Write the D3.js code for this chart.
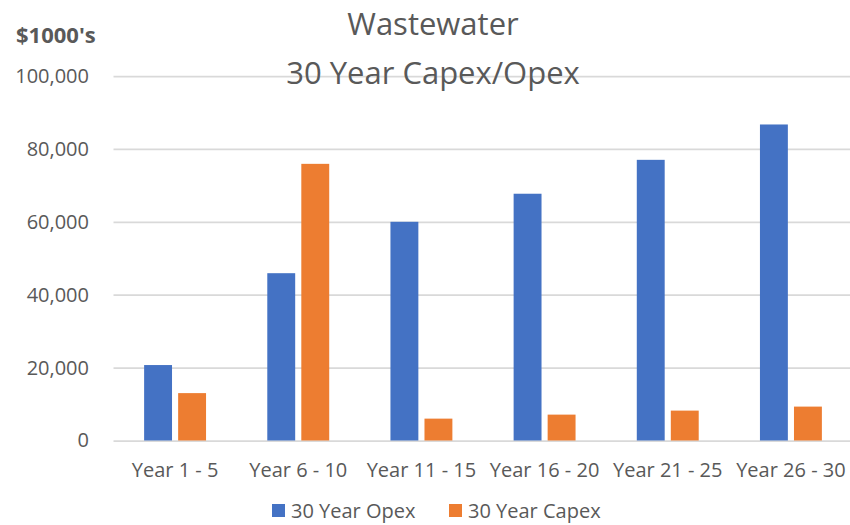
<!DOCTYPE html>
<html>
<head>
<meta charset="utf-8">
<script src="https://cdn.jsdelivr.net/npm/d3@7"></script>
<style>
    body { margin: 0; background: #fff; }
    #chart { width: 850px; height: 525px; }
    text { font-family: "Open Sans", sans-serif; fill: #595959; }
</style>
</head>
<body>
<div id="chart"></div>
<script>
//Datos
const categorias = ['Year 1 - 5', 'Year 6 - 10', 'Year 11 - 15', 'Year 16 - 20', 'Year 21 - 25', 'Year 26 - 30'];
const series = ['30 Year Opex', '30 Year Capex'];
const opex = [20700, 45900, 60000, 67700, 77000, 86700];
const capex = [13000, 75900, 6000, 7100, 8200, 9300];
const yTicks = [0, 20000, 40000, 60000, 80000, 100000];

//Colores fijos
const COLOR_OPEX = '#4472C4',
COLOR_CAPEX = '#ED7D31',
COLOR_GRID = '#D9D9D9';

let data = categorias.map(function(c, i) {
    return { cat: c, values: [opex[i], capex[i]] };
});

let margin = {top: 76, right: 0, bottom: 84.5, left: 113.5},
    width = 739,
    height = 525 - margin.top - margin.bottom;

let svg = d3.select('#chart')
    .append('svg')
        .attr('width', 850)
        .attr('height', 525)
    .append('g')
        .attr('transform', 'translate(' + margin.left + ',' + margin.top + ')');

let x0 = d3.scaleBand()
    .domain(categorias)
    .range([0, width])
    .padding(0);

let x1 = d3.scaleBand()
    .domain(series)
    .range([0, x0.bandwidth()])
    .paddingInner(0.18)
    .paddingOuter(0.9);

let y = d3.scaleLinear()
    .domain([0, 100000])
    .range([height, 0]);

//Eje Y + grid
let yAxis = function(g) {
    g.call(d3.axisLeft(y).tickValues(yTicks).tickFormat(d3.format(',')).tickSize(-width).tickPadding(24.5));
    g.call(function(g) { g.select('.domain').remove(); });
    g.selectAll('.tick line').attr('stroke', COLOR_GRID).attr('stroke-width', 1.75);
    g.selectAll('.tick text').attr('font-size', 20).style('font-family', '"Open Sans", sans-serif').attr('fill', '#595959');
};

svg.append('g')
    .attr('class', 'yaxis')
    .call(yAxis);

//Eje X
let xAxis = function(g) {
    g.call(d3.axisBottom(x0).tickSize(0).tickPadding(22));
    g.call(function(g) { g.select('.domain').remove(); });
    g.selectAll('.tick text').attr('font-size', 20).style('font-family', '"Open Sans", sans-serif').attr('fill', '#595959');
};

svg.append('g')
    .attr('transform', 'translate(0,' + height + ')')
    .call(xAxis);

//Barras
let grupos = svg.selectAll('.grupo')
    .data(data)
    .enter()
    .append('g')
    .attr('class', 'grupo')
    .attr('transform', function(d) { return 'translate(' + x0(d.cat) + ',0)'; });

grupos.selectAll('rect')
    .data(function(d) {
        return series.map(function(s, i) { return { key: s, value: d.values[i] }; });
    })
    .enter()
    .append('rect')
    .attr('x', function(d) { return x1(d.key); })
    .attr('y', function(d) { return y(d.value); })
    .attr('width', x1.bandwidth())
    .attr('height', function(d) { return height - y(d.value); })
    .attr('fill', function(d) { return d.key == series[0] ? COLOR_OPEX : COLOR_CAPEX; });

//Titulo
let root = d3.select('#chart svg');

root.append('text')
    .attr('x', 433)
    .attr('y', 35)
    .attr('text-anchor', 'middle')
    .attr('font-size', 31)
    .text('Wastewater');

root.append('text')
    .attr('x', 433)
    .attr('y', 84)
    .attr('text-anchor', 'middle')
    .attr('font-size', 31)
    .text('30 Year Capex/Opex');

//Unidades
root.append('text')
    .attr('x', 16)
    .attr('y', 43)
    .attr('font-size', 22)
    .attr('font-weight', 'bold')
    .text("$1000's");

//Leyenda
let legendX = [272, 449];
let leyenda = root.selectAll('.leyenda')
    .data(series)
    .enter()
    .append('g')
    .attr('class', 'leyenda')
    .attr('transform', function(d, i) { return 'translate(' + legendX[i] + ',504)'; });

leyenda.append('rect')
    .attr('width', 13)
    .attr('height', 13)
    .attr('fill', function(d, i) { return i == 0 ? COLOR_OPEX : COLOR_CAPEX; });

leyenda.append('text')
    .attr('x', 19)
    .attr('y', 13.5)
    .attr('font-size', 20)
    .text(function(d) { return d; });
</script>
</body>
</html>
